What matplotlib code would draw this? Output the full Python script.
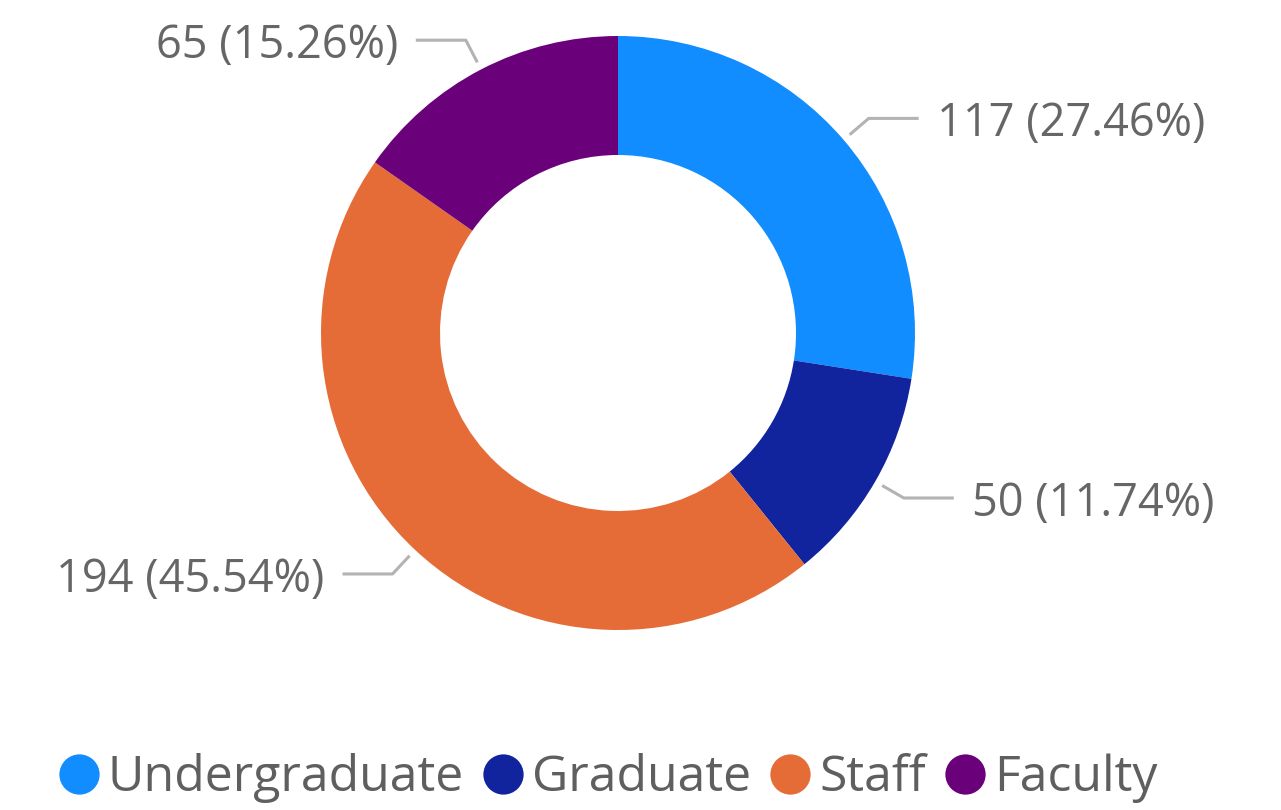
import numpy as np
import matplotlib
matplotlib.use("Agg")
import matplotlib.pyplot as plt
from matplotlib.lines import Line2D

categories = ["Undergraduate", "Graduate", "Staff", "Faculty"]
values = [117, 50, 194, 65]
colors = ["#118DFF", "#12239E", "#E66C37", "#6B007B"]

W, H = 1281, 810
fig = plt.figure(figsize=(W / 100, H / 100), dpi=100)
ax = fig.add_axes([0, 0, 1, 1])
ax.set_xlim(0, W)
ax.set_ylim(0, H)
ax.axis("off")

cx, cy = 618, H - 333
R = 297
width = 119

wedges, _ = ax.pie(values, colors=colors, startangle=90, counterclock=False,
                   radius=R, center=(cx, cy),
                   wedgeprops=dict(width=width, linewidth=0))
ax.set_xlim(0, W)
ax.set_ylim(0, H)
ax.set_aspect("equal")

total = sum(values)
font = "Open Sans"
txtcol = "#666666"
linecol = "#B3B3B3"
cum = 0
for v in values:
    mid = 90 - (cum + v / 2) / total * 360
    cum += v
    a = np.deg2rad(mid)
    x0, y0 = cx + 305 * np.cos(a), cy + 305 * np.sin(a)
    x1, y1 = cx + 330 * np.cos(a), cy + 330 * np.sin(a)
    side = 1 if np.cos(a) >= 0 else -1
    x2 = x1 + side * 50
    ax.plot([x0, x1, x2], [y0, y1, y1], color=linecol, lw=2.2, solid_capstyle="butt")
    label = f"{v} ({v / total * 100:.2f}%)"
    ax.text(x2 + side * 18, y1 - 6, label, ha="left" if side > 0 else "right",
            va="center", fontsize=32.5, color=txtcol, family=font)

handles = [Line2D([0], [0], marker="o", linestyle="none", markersize=29,
                  markerfacecolor=c, markeredgewidth=0) for c in colors]
leg = fig.legend(handles, categories, loc="center", bbox_to_anchor=(608 / W, 1 - 778 / H),
                 ncol=4, frameon=False, fontsize=36, handletextpad=0.18,
                 columnspacing=0.38, handlelength=0.8, borderaxespad=0,
                 borderpad=0)
for t in leg.get_texts():
    t.set_color("#5F5F5F")
    t.set_family(font)

fig.savefig("out.png", dpi=100)
